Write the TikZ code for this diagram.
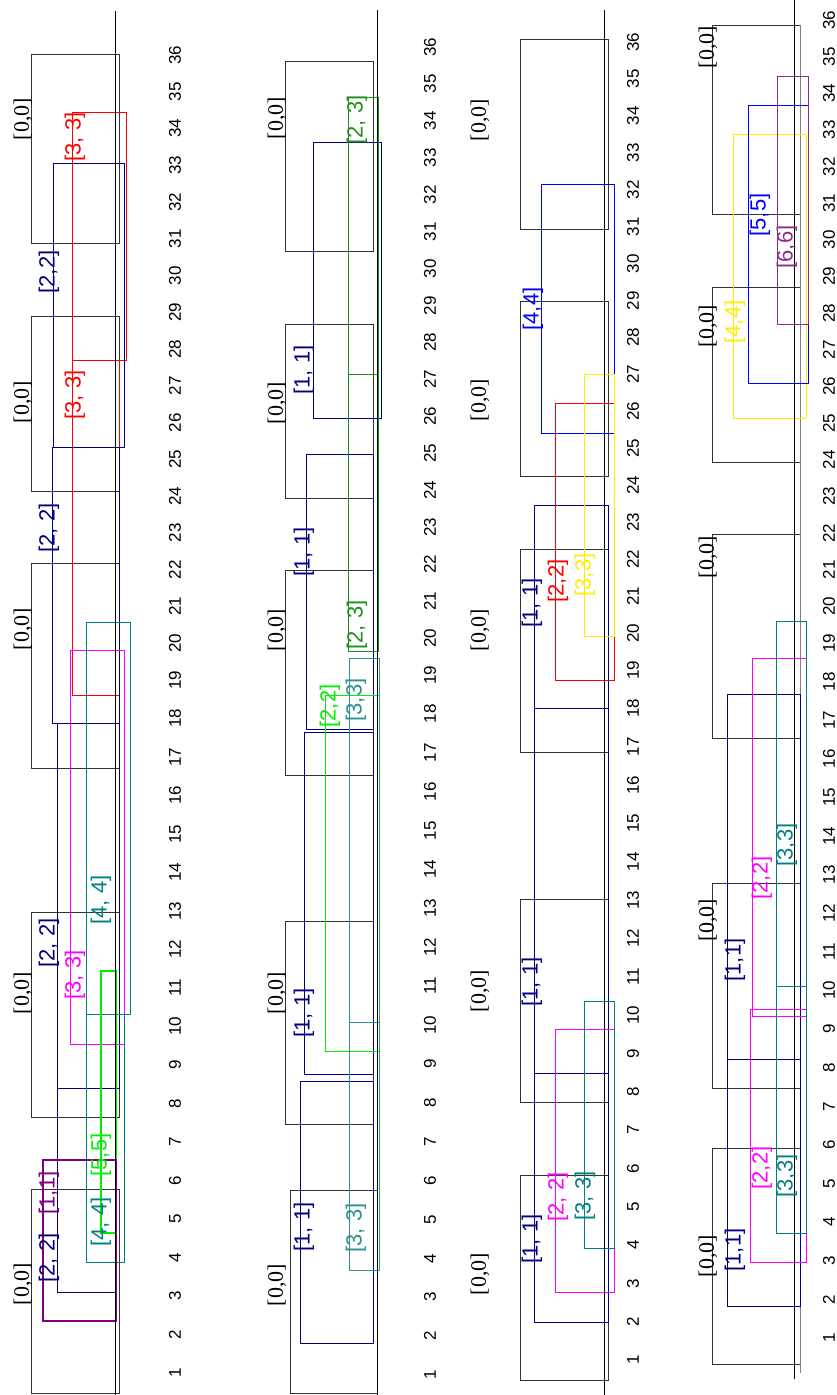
\documentclass[tikz,border=0pt]{standalone}
\usepackage{fontspec}
\setmainfont{Liberation Serif}
\setsansfont{Liberation Sans}
\definecolor{navyc}{HTML}{000080}
\definecolor{tealc}{HTML}{008080}
\definecolor{teall}{HTML}{2E9090}
\definecolor{limec}{HTML}{00EE00}
\definecolor{purplec}{HTML}{800080}
\definecolor{purplel}{HTML}{8E2A8E}
\definecolor{dgreen}{HTML}{1E8C1E}
\definecolor{yellowc}{HTML}{FFEE00}
\definecolor{bluec}{HTML}{0000FF}
\definecolor{redc}{HTML}{FF0000}
\definecolor{magc}{HTML}{FF00FF}
\definecolor{boxc}{HTML}{333333}
\tikzset{
  bx/.style={draw=#1, line width=0.9pt},
  bxk/.style={draw=#1, line width=1.8pt},
  zl/.style={font=\rmfamily\fontsize{22}{22}\selectfont, rotate=90, inner sep=0pt},
  cl/.style={text=#1, font=\sffamily\fontsize{22}{22}\selectfont, rotate=90, inner sep=0pt},
  num/.style={font=\sffamily\fontsize{17}{17}\selectfont, rotate=90, inner sep=0pt},
  axisl/.style={draw=black, line width=0.9pt},
}
\newcommand{\numcol}[5]{%
  \foreach \n in {1,...,36} {
    \pgfmathsetmacro\yy{\n>=19 ? #4-(\n-19)*(#4-#3)/17 : #4+(19-\n)*(#5-#4)/18}
    \node[num] (#1\n) at (#2,\yy) {\n};
  }%
}
\begin{document}
\begin{tikzpicture}[x=1pt,y=-1pt]
\useasboundingbox[fill=white] (0,0) rectangle (836,1395);

%% ---------------- Panel 1 ----------------
\foreach \a/\b in {54/243,316/491,563/768,912/1117,1189/1393}
  \draw[bx=boxc] (31,\a) rectangle (119,\b);
\draw[bx=redc] (72,112) rectangle (126,360);
\draw[bx=redc] (72,360) rectangle (119,695);
\draw[bx=navyc] (53,163) rectangle (124,447);
\draw[bx=navyc] (52,447) rectangle (119,723);
\draw[bx=navyc] (57,723) rectangle (119,1088);
\draw[bx=navyc] (57,1088) rectangle (116,1292);
\draw[bx=magc] (70,650) rectangle (124,1044);
\draw[bx=tealc] (86,622) rectangle (130,1014);
\draw[bx=tealc] (86,1014) rectangle (124,1262);
\draw[bxk=limec] (101,971) rectangle (116,1233);
\draw[bxk=purplec] (43,1160) rectangle (116,1321);
\coordinate (a1t) at (115.7,11);
\coordinate (a1b) at (115.7,1395);
\draw[axisl] (a1t) -- (a1b);
\node[zl] (z11) at (23,119) {[0,0]};
\node[zl] (z12) at (23,402) {[0,0]};
\node[zl] (z13) at (23,629) {[0,0]};
\node[zl] (z14) at (23,993) {[0,0]};
\node[zl] (z15) at (23,1284) {[0,0]};
\node[cl=redc] (r11) at (75,137) {[3, 3]};
\node[cl=redc] (r12) at (75,395) {[3, 3]};
\node[cl=navyc] (n11) at (49,272) {[2,2]};
\node[cl=navyc] (n12) at (49,528) {[2, 2]};
\node[cl=navyc] (n13) at (49,943) {[2, 2]};
\node[cl=navyc] (n14) at (49,1258) {[2, 2]};
\node[cl=magc] (m11) at (75,975) {[3, 3]};
\node[cl=tealc] (t11) at (101,900) {[4, 4]};
\node[cl=tealc] (t12) at (101,1222) {[4, 4]};
\node[cl=limec] (g11) at (101,1155) {[5,5]};
\node[cl=purplec] (p11) at (49,1193) {[1,1]};
\numcol{pa}{175}{55}{680}{1373}

%% ---------------- Panel 2 ----------------
\foreach \a/\b in {61/251,324/498,570/775,921/1124}
  \draw[bx=boxc] (285.7,\a) rectangle (373.3,\b);
\draw[bx=boxc] (290,1190) rectangle (377.7,1393);
\draw[bx=navyc] (313,142) rectangle (381,418);
\draw[bx=navyc] (306,454) rectangle (373,729);
\draw[bx=navyc] (304,732) rectangle (373,1074);
\draw[bx=navyc] (300,1081) rectangle (373,1343);
\draw[bx=dgreen] (348,97) rectangle (378,374);
\draw[bx=dgreen] (348,374) rectangle (378,651);
\draw[bx=limec] (325,695) rectangle (379,1051);
\draw[bx=teall] (349,658) rectangle (379,1022);
\draw[bx=teall] (349,1022) rectangle (379,1270);
\coordinate (a2t) at (377.7,10);
\coordinate (a2b) at (377.7,1395);
\draw[axisl] (a2t) -- (a2b);
\node[zl] (z21) at (277,118) {[0,0]};
\node[zl] (z22) at (277,403) {[0,0]};
\node[zl] (z23) at (277,630) {[0,0]};
\node[zl] (z24) at (277,993) {[0,0]};
\node[zl] (z25) at (277,1285) {[0,0]};
\node[cl=navyc] (n21) at (304,370) {[1, 1]};
\node[cl=navyc] (n22) at (304,552) {[1, 1]};
\node[cl=navyc] (n23) at (304,1013) {[1, 1]};
\node[cl=navyc] (n24) at (304,1227) {[1, 1]};
\node[cl=dgreen] (g21) at (357,120) {[2, 3]};
\node[cl=dgreen] (g22) at (357,625) {[2, 3]};
\node[cl=limec] (l21) at (330,706) {[2,2]};
\node[cl=teall] (t21) at (356,700) {[3,3]};
\node[cl=teall] (t22) at (356,1228) {[3, 3]};
\numcol{pb}{430}{47}{675}{1375}

%% ---------------- Panel 3 ----------------
\foreach \a/\b in {39/229,301/476,549/752,899/1102,1175/1380}
  \draw[bx=boxc] (520,\a) rectangle (608,\b);
\draw[bx=navyc] (534,505) rectangle (608,708);
\draw[bx=navyc] (534,708) rectangle (608,1073);
\draw[bx=navyc] (534,1073) rectangle (608,1322);
\draw[bx=bluec] (541,184) rectangle (614,433);
\draw[bx=redc] (555,403) rectangle (614,680);
\draw[bx=yellowc] (584,374) rectangle (614,636);
\draw[bx=magc] (555,1029) rectangle (614,1292);
\draw[bx=tealc] (584,1001) rectangle (614,1248);
\coordinate (a3t) at (604,10);
\coordinate (a3b) at (604,1395);
\draw[axisl] (a3t) -- (a3b);
\node[zl] (z31) at (480,120) {[0,0]};
\node[zl] (z32) at (480,400) {[0,0]};
\node[zl] (z33) at (480,630) {[0,0]};
\node[zl] (z34) at (480,991) {[0,0]};
\node[zl] (z35) at (480,1274) {[0,0]};
\node[cl=bluec] (b31) at (533,309) {[4,4]};
\node[cl=navyc] (n31) at (532,603) {[1, 1]};
\node[cl=navyc] (n32) at (532,982) {[1, 1]};
\node[cl=navyc] (n33) at (532,1239) {[1, 1]};
\node[cl=redc] (r31) at (558,581) {[2,2]};
\node[cl=yellowc] (y31) at (585,575) {[3,3]};
\node[cl=magc] (m31) at (558,1197) {[2, 2]};
\node[cl=tealc] (t31) at (585,1196) {[3, 3]};
\numcol{pc}{633}{42}{670}{1360}

%% ---------------- Panel 4 ----------------
\foreach \a/\b in {25/214,287/462,534/738,883/1088,1148/1364}
  \draw[bx=boxc] (712,\a) rectangle (800,\b);
\coordinate (g4t) at (800,25);
\coordinate (g4b) at (800,1373);
\draw[draw=gray, line width=0.9pt] (g4t) -- (g4b);
\draw[bx=yellowc] (733,134) rectangle (806,418);
\draw[bx=bluec] (748,105) rectangle (808,383);
\draw[bx=purplel] (777,76) rectangle (808,324);
\draw[bx=navyc] (727,694) rectangle (800,1059);
\draw[bx=navyc] (727,1059) rectangle (800,1306);
\draw[bx=magc] (752,658) rectangle (806,1016);
\draw[bx=magc] (750,1009) rectangle (806,1262);
\draw[bx=tealc] (776,621) rectangle (806,986);
\draw[bx=tealc] (776,986) rectangle (806,1233);
\coordinate (a4t) at (794,0);
\coordinate (a4b) at (794,1379);
\draw[axisl] (a4t) -- (a4b);
\node[zl] (z41) at (708,47) {[0,0]};
\node[zl] (z42) at (708,326) {[0,0]};
\node[zl] (z43) at (708,557) {[0,0]};
\node[zl] (z44) at (708,920) {[0,0]};
\node[zl] (z45) at (708,1256) {[0,0]};
\node[cl=yellowc] (y41) at (735,322) {[4,4]};
\node[cl=bluec] (b41) at (760,215) {[5,5]};
\node[cl=purplel] (p41) at (787,247) {[6,6]};
\node[cl=navyc] (n41) at (735,960) {[1,1]};
\node[cl=navyc] (n42) at (735,1250) {[1,1]};
\node[cl=magc] (m41) at (762,878) {[2,2]};
\node[cl=magc] (m42) at (762,1168) {[2,2]};
\node[cl=tealc] (t41) at (787,845) {[3,3]};
\node[cl=tealc] (t42) at (787,1176) {[3,3]};
\numcol{pd}{829}{20}{643}{1338}
\end{tikzpicture}
\end{document}
